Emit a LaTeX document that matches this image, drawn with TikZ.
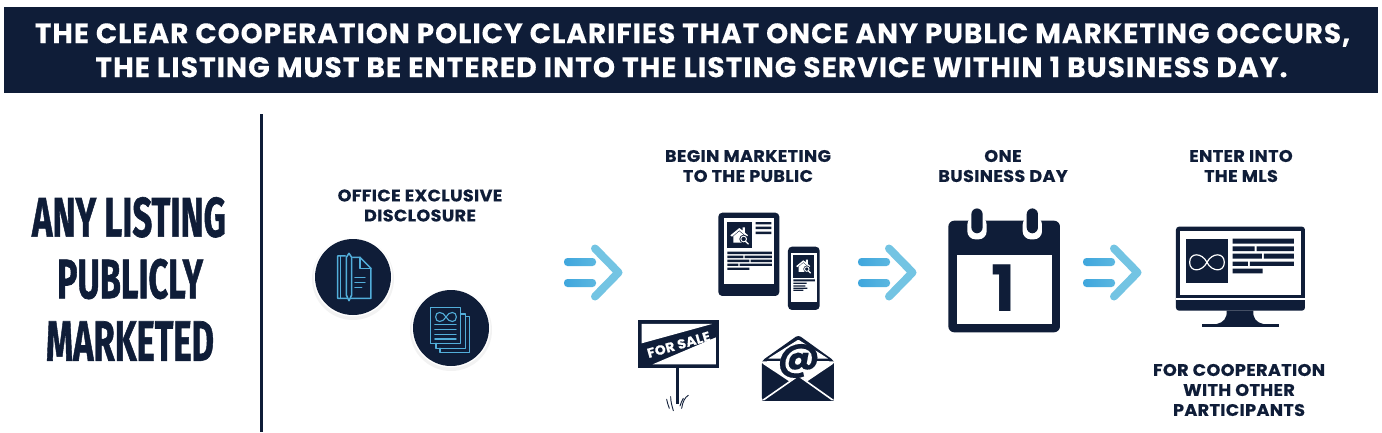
\documentclass[tikz,border=0pt]{standalone}
\usepackage{fontspec}
\usepackage{graphicx}
\setmainfont{Poppins}
\newfontfamily\condfont[BoldFeatures={FakeBold=1.2}]{Fira Sans}
\newfontfamily\lblfont[LetterSpace=2,FakeStretch=1.05,BoldFeatures={FakeBold=0.35}]{Poppins}
\newfontfamily\hdrfont[LetterSpace=3.5,BoldFeatures={FakeBold=0.15}]{Poppins}
\definecolor{navy}{HTML}{0F1D38}
\definecolor{iconblue}{HTML}{52AEDA}
\definecolor{stemA}{HTML}{3FA6DD}
\definecolor{stemB}{HTML}{5BB7E0}
\definecolor{chev}{HTML}{73C4E3}
\tikzset{
  lbl/.style={text=navy,inner sep=0pt,font=\lblfont\bfseries\fontsize{16.8}{20}\selectfont,anchor=center},
  hdr/.style={text=white,inner sep=0pt,anchor=center,font=\hdrfont\bfseries},
  big/.style={text=navy,inner sep=0pt,anchor=center,font=\condfont\bfseries},
  iconline/.style={draw=iconblue,line width=1.5pt,line join=round,line cap=round},
  disc/.style={fill=navy},
  halo/.style={fill=black,opacity=.05},
  flow/.pic={
    \shade[left color=stemA,right color=stemB,rounded corners=3.5pt] (0,-14.5) rectangle (32,-6.5);
    \shade[left color=stemA,right color=stemB,rounded corners=3.5pt] (0,6.5) rectangle (32,14.5);
    \draw[chev,line width=8pt,line join=round,line cap=round] (31,-24) -- (54.5,0) -- (31,24);
  },
  house/.pic={
    \fill[white] (-22,-6) -- (0,-24) -- (10,-16) -- (10,-26) -- (17,-26) -- (17,-10) -- (26,-2) -- (22,2) -- (0,-17) -- (-22,2) -- (-27,-2) -- cycle;
    \fill[white] (-18,1) -- (0,-14) -- (18,1) -- (18,20) -- (-18,20) -- cycle;
    \fill[navy] (13,9) circle (13);
    \draw[white,line width=.9pt] (13,9) circle (8.5);
    \draw[white,line width=1.2pt,line cap=round] (19,16) -- (27,24);
  },
  infloop/.pic={
    \draw[line width=1.2pt,pic actions] (0,0) .. controls (15,-30) and (52,-30) .. (52,0) .. controls (52,30) and (15,30) .. (0,0) .. controls (-15,-30) and (-52,-30) .. (-52,0) .. controls (-52,30) and (-15,30) .. (0,0) -- cycle;
  },
}
\begin{document}
\begin{tikzpicture}[x=1pt,y=-1pt]
\useasboundingbox (0,0) rectangle (1382,432);
\fill[white] (0,0) rectangle (1382,432);
% header
\fill[navy] (4,7) rectangle (1378,93);
\node[hdr] (h1) at (692.5,35) {\resizebox{1315pt}{!}{THE CLEAR COOPERATION POLICY CLARIFIES THAT ONCE ANY PUBLIC MARKETING OCCURS,}};
\node[hdr] (h2) at (691.5,67) {\resizebox{1192pt}{!}{THE LISTING MUST BE ENTERED INTO THE LISTING SERVICE WITHIN 1 BUSINESS DAY.}};
% left
\node[big] (t1) at (129,217.3) {\resizebox{194pt}{39.5pt}{ANY LISTING}};
\node[big] (t2) at (130,279) {\resizebox{146pt}{39.5pt}{PUBLICLY}};
\node[big] (t3) at (130,341) {\resizebox{168pt}{39.5pt}{MARKETED}};
\draw[navy,line width=3pt] (261,114) -- (261,432);
% labels
\node[lbl] (a1) at (420,195.5) {OFFICE EXCLUSIVE};
\node[lbl] (a2) at (420,215.5) {DISCLOSURE};
\node[lbl] (b1) at (748,156) {BEGIN MARKETING};
\node[lbl] (b2) at (748,176) {TO THE PUBLIC};
\node[lbl] (c1) at (1003,156) {ONE};
\node[lbl] (c2) at (1003,176) {BUSINESS DAY};
\node[lbl] (d1) at (1241,156) {ENTER INTO};
\node[lbl] (d2) at (1241,176) {THE MLS};
\node[lbl] (e1) at (1239,370) {FOR COOPERATION};
\node[lbl] (e2) at (1239,390) {WITH OTHER};
\node[lbl] (e3) at (1239,410) {PARTICIPANTS};
% arrows
\pic at (564,272.5) {flow};
\pic at (858,272.5) {flow};
\pic at (1083,272.5) {flow};
% discs
\fill[halo] (353,279) circle (41);
\fill[halo] (451,330) circle (41);
\fill[white] (353,277) circle (39.5);
\fill[white] (451,328) circle (39.5);
\fill[disc] (353,277) circle (38);
\fill[disc] (451,328) circle (38);
\begin{scope}[shift={(300,170)},x=.3333pt,y=-.3333pt]
  % paper + pen
  \draw[iconline] (136,258) -- (113,258) -- (113,385) -- (213,385) -- (213,295) -- (180,262) -- (158,262);
  \draw[iconline] (180,262) -- (180,295) -- (213,295);
  \draw[iconline] (122,258) -- (122,385);
  \draw[iconline,fill=navy] (139,262) -- (139,375) -- (147,392) -- (155,375) -- (155,262) -- (147,250) -- cycle;
  \draw[iconline] (165,322) -- (195,322) (165,337) -- (195,337) (165,352) -- (185,352);
  % stack
  \draw[iconline] (392,413) rectangle (482,520);
  \draw[iconline] (482,432) -- (497,432) -- (497,535) -- (408,535) -- (408,520);
  \draw[iconline] (497,440) -- (508,440) -- (508,547) -- (420,547) -- (420,535);
  \draw[iconline] (405,463) -- (468,463) (405,478) -- (468,478) (405,493) -- (468,493) (405,507) -- (468,507);
  \begin{scope}[shift={(438,441)},x=.1pt,y=-.1pt]
    \draw[iconblue,line width=1.1pt] (0,0) .. controls (30,-60) and (104,-60) .. (104,0) .. controls (104,60) and (30,60) .. (0,0) .. controls (-30,-60) and (-104,-60) .. (-104,0) .. controls (-104,60) and (-30,60) .. (0,0) -- cycle;
  \end{scope}
\end{scope}
% media
\begin{scope}[shift={(630,200)},x=.3333pt,y=-.3333pt]
  % tablet
  \fill[navy,rounded corners=4pt] (265,38) rectangle (448,288);
  \fill[white] (283,55) rectangle (432,253);
  \fill[navy] (292,65) rectangle (367,145);
  \fill[navy] (377,66) rectangle (424,73) (377,80) rectangle (424,87) (377,95) rectangle (424,102);
  \fill[navy] (292,155) rectangle (426,162) (292,167) rectangle (340,174) (344,167) rectangle (426,174)
              (292,179) rectangle (358,186) (362,179) rectangle (426,186) (292,191) rectangle (325,198) (329,191) rectangle (426,198)
              (292,203) rectangle (358,210);
  \pic[scale=1] at (328,108) {house};
  % phone
  \fill[navy,rounded corners=4pt] (474,140) rectangle (569,330);
  \fill[white] (483,158) rectangle (560,305);
  \fill[navy] (490,165) rectangle (553,235);
  \fill[navy] (490,238) rectangle (555,244) (490,248) rectangle (530,252) (490,256) rectangle (526,260) (490,263) rectangle (532,267) (490,269) rectangle (520,273);
  \pic[scale=.8] at (520,200) {house};
  % sign
  \draw[navy,line width=3.4pt] (143,505) -- (143,612);
  \fill[navy] (23,360) rectangle (268,505);
  \fill[white] (35,372) -- (246,372) -- (35,430) -- cycle;
  \fill[white] (258,412) -- (258,493) -- (68,493) -- cycle;
  \node[text=white,inner sep=0pt,font=\lblfont\bfseries\fontsize{13.2}{14}\selectfont,rotate=16] (sale) at (146,434) {FOR SALE};
  \draw[navy,line width=.9pt,line cap=round] (110,598) .. controls (112,608) and (114,615) .. (118,625) (122,590) .. controls (122,605) and (126,618) .. (130,632) (175,586) .. controls (165,592) and (158,605) .. (155,625) (160,595) .. controls (156,602) and (152,610) .. (150,618);
  % envelope
  \fill[navy,rounded corners=3pt] (396,482) -- (505,405) -- (612,482) -- (612,603) -- (396,603) -- cycle;
  \fill[white,rounded corners=1pt] (414,476) -- (505,419) -- (595,476) -- (595,484) -- (612,484) -- (612,490) -- (505,562) -- (396,490) -- (396,484) -- (414,484) -- cycle;
  \fill[navy] (410,476) rectangle (452,483) (558,476) rectangle (600,483);
  \fill[navy] (505,525) -- (612,603) -- (396,603) -- cycle;
  \draw[white,line width=1.6pt] (400,600) -- (505,527) -- (608,600);
  \node[text=navy,inner sep=0pt,font=\lblfont\bfseries\fontsize{38}{38}\selectfont] (at) at (506,483) {@};
\end{scope}
% calendar
\begin{scope}[shift={(930,200)},x=.3333pt,y=-.3333pt]
  \fill[navy,rounded corners=6pt] (55,62) rectangle (390,397);
  \fill[white] (80,165) rectangle (365,372);
  \fill[white,rounded corners=8pt] (112,50) rectangle (170,118);
  \fill[white,rounded corners=8pt] (278,50) rectangle (336,118);
  \fill[navy,rounded corners=6pt] (124,25) rectangle (158,100);
  \fill[navy,rounded corners=6pt] (290,25) rectangle (324,100);
  \node[text=navy,inner sep=0pt,font=\bfseries\fontsize{64}{64}\selectfont] (one) at (220,265) {1};
  % monitor
  \fill[navy,rounded corners=3pt] (738,80) rectangle (1125,332);
  \fill[white] (750,92) rectangle (1113,285);
  \fill[white] (738,293) rectangle (1125,301);
  \fill[navy] (890,332) .. controls (892,355) and (880,368) .. (860,372) -- (1000,372) .. controls (980,368) and (968,355) .. (970,332) -- cycle;
  \fill[navy] (817,372) rectangle (1048,380);
  \fill[navy] (767,116) rectangle (895,250);
  \fill[navy] (908,116) rectangle (1092,131)
              (908,139) rectangle (974,153) (980,139) rectangle (1092,153)
              (908,161) rectangle (996,176) (1002,161) rectangle (1092,176)
              (908,185) rectangle (954,198) (960,185) rectangle (1092,198)
              (908,206) rectangle (998,220);
  \pic[draw=white] at (831,187) {infloop};
\end{scope}
\end{tikzpicture}
\end{document}
